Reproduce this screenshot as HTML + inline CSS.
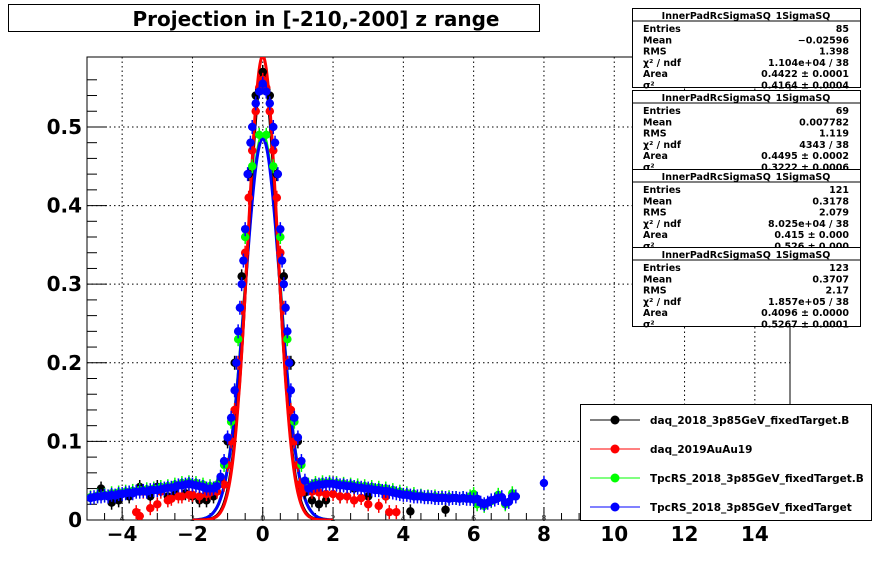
<!DOCTYPE html>
<html><head><meta charset="utf-8"><style>
body{margin:0;background:#fff;}
svg{display:block;font-family:"DejaVu Sans","Liberation Sans",sans-serif;}
</style></head><body>
<svg id="c" width="878" height="578" viewBox="0 0 878 578"></svg>
<script>
const xTicks=[-4,-2,0,2,4,6,8,10,12,14];
const yTicks=[0,0.1,0.2,0.3,0.4,0.5];
const yTickLabels=["0","0.1","0.2","0.3","0.4","0.5"];
const blueX=[-4.9,-4.8,-4.7,-4.6,-4.5,-4.4,-4.3,-4.2,-4.1,-4.0,-3.9,-3.8,-3.7,-3.6,-3.5,-3.4,-3.3,-3.2,-3.1,-3.0,-2.9,-2.8,-2.7,-2.6,-2.5,-2.4,-2.3,-2.2,-2.1,-2.0,-1.9,-1.8,-1.7,-1.6,-1.5,-1.4,-1.3,-1.2,-1.1,-1.0,-0.9,-0.8,-0.75,-0.7,-0.65,-0.6,-0.55,-0.5,-0.43,-0.35,-0.3,-0.2,-0.1,0,0.1,0.2,0.3,0.35,0.43,0.5,0.55,0.6,0.65,0.7,0.75,0.8,0.9,1.0,1.1,1.2,1.3,1.4,1.5,1.6,1.7,1.8,1.9,2.0,2.1,2.2,2.3,2.4,2.5,2.6,2.7,2.8,2.9,3.0,3.1,3.2,3.3,3.4,3.5,3.6,3.7,3.8,3.9,4.0,4.1,4.2,4.3,4.4,4.5,4.6,4.7,4.8,4.9,5.0,5.1,5.2,5.3,5.4,5.5,5.6,5.7,5.8,5.9,6.0,6.1,6.2,6.3,6.4,6.5,6.6,6.7,6.8,6.9,7.0,7.1,7.2,8.0];
const blueY=[0.028,0.029,0.03,0.03,0.031,0.03,0.032,0.031,0.033,0.033,0.034,0.035,0.034,0.036,0.036,0.037,0.036,0.038,0.038,0.038,0.039,0.04,0.041,0.041,0.042,0.044,0.044,0.045,0.046,0.045,0.044,0.043,0.042,0.04,0.04,0.04,0.043,0.055,0.075,0.105,0.13,0.165,0.2,0.24,0.27,0.3,0.33,0.37,0.44,0.48,0.5,0.53,0.545,0.555,0.545,0.53,0.5,0.48,0.44,0.37,0.33,0.3,0.27,0.24,0.2,0.165,0.13,0.105,0.075,0.05,0.04,0.043,0.044,0.045,0.045,0.046,0.046,0.046,0.045,0.044,0.044,0.043,0.043,0.042,0.041,0.041,0.04,0.04,0.039,0.038,0.038,0.037,0.037,0.036,0.035,0.034,0.033,0.032,0.032,0.031,0.03,0.03,0.03,0.029,0.029,0.029,0.028,0.028,0.028,0.028,0.027,0.028,0.028,0.027,0.028,0.027,0.027,0.026,0.027,0.022,0.02,0.022,0.025,0.026,0.028,0.029,0.022,0.023,0.03,0.03,0.047];
const greenX=[-4.9,-4.7,-4.5,-4.3,-4.1,-3.9,-3.7,-3.5,-3.3,-3.1,-2.9,-2.7,-2.5,-2.3,-2.1,-1.9,-1.7,-1.5,-1.3,-1.1,-0.9,-0.7,-0.5,-0.3,-0.1,0.1,0.3,0.5,0.7,0.9,1.1,1.3,1.5,1.7,1.9,2.1,2.3,2.5,2.7,2.9,3.1,3.3,3.5,3.7,3.9,4.1,4.3,4.5,4.7,4.9,5.1,5.3,5.5,5.7,5.9,6.0,6.1,6.3,6.5,6.7,6.9,7.1];
const greenY=[0.029,0.031,0.032,0.034,0.035,0.036,0.037,0.038,0.039,0.04,0.042,0.043,0.045,0.047,0.048,0.047,0.045,0.043,0.045,0.07,0.125,0.23,0.36,0.45,0.49,0.49,0.45,0.36,0.23,0.125,0.07,0.045,0.047,0.048,0.048,0.047,0.046,0.045,0.044,0.043,0.042,0.041,0.04,0.038,0.036,0.034,0.033,0.031,0.03,0.03,0.029,0.029,0.028,0.028,0.03,0.033,0.02,0.018,0.024,0.032,0.02,0.034];
const blackX=[-4.6,-4.3,-4.1,-3.8,-3.5,-3.2,-3.0,-2.7,-2.5,-2.2,-2.0,-1.8,-1.6,-1.4,-1.2,-1.0,-0.8,-0.6,-0.4,-0.2,0,0.2,0.4,0.6,0.8,1.0,1.2,1.4,1.6,1.8,2.2,2.6,3.0,3.5,4.2,5.2];
const blackY=[0.04,0.022,0.025,0.03,0.042,0.03,0.042,0.03,0.035,0.034,0.03,0.025,0.025,0.03,0.05,0.1,0.2,0.31,0.44,0.54,0.57,0.54,0.44,0.31,0.2,0.1,0.035,0.025,0.02,0.025,0.03,0.04,0.03,0.03,0.011,0.013];
const redX=[-3.6,-3.5,-3.4,-3.2,-3.0,-2.9,-2.7,-2.6,-2.4,-2.3,-2.1,-2.0,-1.8,-1.6,-1.5,-1.3,-1.1,-1.0,-0.9,-0.8,-0.7,-0.6,-0.5,-0.4,-0.3,-0.2,-0.1,0,0.1,0.2,0.3,0.4,0.5,0.6,0.7,0.8,0.9,1.0,1.05,1.1,1.2,1.4,1.6,1.8,2.0,2.2,2.4,2.6,2.8,3.0,3.3,3.5,3.6,3.8];
const redY=[0.01,0.005,0.036,0.015,0.02,0.036,0.025,0.027,0.03,0.03,0.032,0.032,0.03,0.033,0.035,0.036,0.045,0.07,0.1,0.14,0.2,0.27,0.34,0.41,0.47,0.52,0.55,0.56,0.55,0.52,0.47,0.41,0.34,0.27,0.2,0.14,0.1,0.07,0.045,0.035,0.04,0.036,0.035,0.033,0.033,0.03,0.03,0.025,0.028,0.02,0.018,0.03,0.01,0.01];
const fitAmp=[0.57,0.59,0.49,0.485];
const fitSigma=[0.43,0.42,0.5,0.5];
const colors=["#000","#f00","#0f0","#00f"];
const legendLabels=["daq_2018_3p85GeV_fixedTarget.B","daq_2019AuAu19","TpcRS_2018_3p85GeV_fixedTarget.B","TpcRS_2018_3p85GeV_fixedTarget"];

const NS="http://www.w3.org/2000/svg";
const svg=document.getElementById('c');
const L=87,R=790,T=57,B=520,xmin=-5,xmax=15,ymin=0,ymax=0.589;
const sx=v=>L+(v-xmin)/(xmax-xmin)*(R-L);
const sy=v=>B-(v-ymin)/(ymax-ymin)*(B-T);
function el(tag,a,parent){const e=document.createElementNS(NS,tag);for(const k in a)e.setAttribute(k,a[k]);(parent||svg).appendChild(e);return e;}
function txt(s,a,parent){const e=el('text',a,parent);e.textContent=s;return e;}

const tg=el('g',{});


el('rect',{x:8.5,y:4.5,width:531,height:27,fill:'#fff',stroke:'#000'},tg);
txt('Projection in [-210,-200] z range',{x:316,y:26,'text-anchor':'middle','font-size':20,'font-weight':'bold'},tg);

const fr=el('rect',{x:L,y:T,width:R-L,height:B-T,fill:'none',stroke:'#000'});


const gg=el('g',{stroke:'#000','stroke-dasharray':'1.5,3','stroke-width':1});


xTicks.forEach(v=>el('line',{x1:sx(v),x2:sx(v),y1:T,y2:B},gg));
yTicks.slice(1).forEach(v=>el('line',{x1:L,x2:R,y1:sy(v),y2:sy(v)},gg));

const ax=el('g',{stroke:'#000'});


for(let v=-5;v<=15.001;v+=0.5){const big=Math.abs(v/2-Math.round(v/2))<1e-6;el('line',{x1:sx(v),x2:sx(v),y1:B,y2:B-(big?13:7)},ax);}
xTicks.forEach(v=>{txt(v<0?'\u2212'+(-v):String(v),{x:sx(v),y:541,'text-anchor':'middle','font-size':20,'font-weight':'bold',stroke:'none'},ax);
 txt(String(Math.abs(v)),{x:sx(v),y:521,'text-anchor':'middle','font-size':8,stroke:'none',fill:'#333'},ax);});
const ay=el('g',{stroke:'#000'});


for(let v=0;v<=0.58;v+=0.02){const big=Math.abs(v*10-Math.round(v*10))<1e-6;el('line',{x1:L,x2:L+(big?20:10),y1:sy(v),y2:sy(v)},ay);}
yTicks.forEach((v,i)=>txt(yTickLabels[i],{x:82,y:sy(v)+7,'text-anchor':'end','font-size':20,'font-weight':'bold',stroke:'none'},ay));

const defs=el('defs',{});const cp=el('clipPath',{id:'clp'},defs);el('rect',{x:L,y:T,width:R-L,height:B-T},cp);

const fits=el('g',{'clip-path':'url(#clp)',fill:'none','stroke-width':3});


[2,3,0,1].forEach(i=>{let d='';for(let x=-2;x<=2.0001;x+=0.02){const y=fitAmp[i]*Math.exp(-x*x/(2*fitSigma[i]*fitSigma[i]));d+=(d?'L':'M')+sx(x).toFixed(1)+','+sy(y).toFixed(1);}
 const p=el('path',{d:d,stroke:colors[i]},fits);});

function series(xs,ys,col,name){const g=el('g',{'clip-path':'url(#clp)'});
 xs.forEach((x,i)=>{el('line',{x1:sx(x)-4,x2:sx(x)+4,y1:sy(ys[i]),y2:sy(ys[i]),stroke:col,'stroke-width':2},g);
  el('line',{x1:sx(x),x2:sx(x),y1:sy(ys[i])-7,y2:sy(ys[i])+7,stroke:col,'stroke-width':1.5},g);
  const c=el('circle',{cx:sx(x),cy:sy(ys[i]),r:4.2,fill:col},g);});}
series(blackX,blackY,'#000','series-daq-2018');
series(redX,redY,'#f00','series-daq-2019');
series(greenX,greenY,'#0f0','series-tpcrs-2018-b');
series(blueX,blueY,'#00f','series-tpcrs-2018');

const stats=[
 ["85","\u22120.02596","1.398","1.104e+04 / 38","0.4422 \u00b1 0.0001","0.4164 \u00b1 0.0004"],
 ["69","0.007782","1.119","4343 / 38","0.4495 \u00b1 0.0002","0.3222 \u00b1 0.0006"],
 ["121","0.3178","2.079","8.025e+04 / 38","0.415 \u00b1 0.000","0.526 \u00b1 0.000"],
 ["123","0.3707","2.17","1.857e+05 / 38","0.4096 \u00b1 0.0000","0.5267 \u00b1 0.0001"]];
const names=["Entries","Mean","RMS","\u03c7\u00b2 / ndf","Area","\u03c3\u00b2"];
const tops=[8,90,169,247];
stats.forEach((s,k)=>{const g=el('g',{});
 const y0=tops[k];el('rect',{x:632.5,y:y0+0.5,width:228,height:79,fill:'#fff',stroke:'#000'},g);
 el('line',{x1:632,x2:860,y1:y0+13,y2:y0+13,stroke:'#000'},g);
 txt('InnerPadRcSigmaSQ_1SigmaSQ',{x:746,y:y0+11,'text-anchor':'middle','font-size':9.5,'font-weight':'bold'},g);
 names.forEach((n,j)=>{const yy=y0+24+j*11.3;txt(n,{x:643,y:yy,'font-size':9.5,'font-weight':'bold'},g);txt(s[j],{x:849,y:yy,'text-anchor':'end','font-size':9.5,'font-weight':'bold'},g);});});

const lg=el('g',{});
el('rect',{x:580.5,y:404.5,width:291,height:116,fill:'#fff',stroke:'#000'},lg);
legendLabels.forEach((t,i)=>{const yy=420+i*29;const e=el('g',{},lg);
 el('line',{x1:590,x2:640,y1:yy,y2:yy,stroke:colors[i]},e);el('circle',{cx:615,cy:yy,r:4.5,fill:colors[i]},e);
 txt(t,{x:650,y:yy+4,'font-size':10.5,'font-weight':'bold'},e);});
</script>
</body></html>
